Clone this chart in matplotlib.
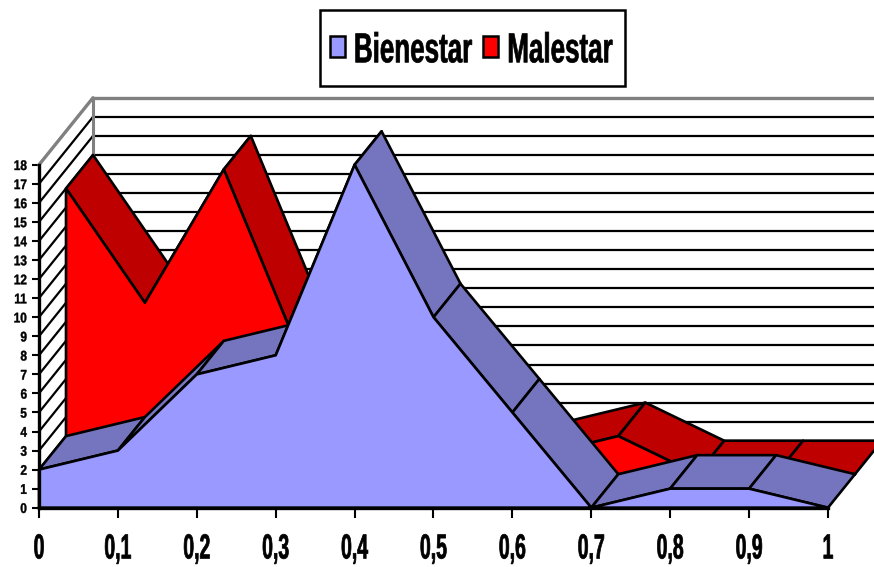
import matplotlib
matplotlib.use('Agg')
from matplotlib import pyplot as plt
from matplotlib import patheffects
from matplotlib.patches import Patch, Rectangle
from matplotlib.transforms import Affine2D

plt.rcParams['font.family'] = ['Liberation Sans', 'DejaVu Sans']
plt.rcParams['font.weight'] = 'bold'

x = [0, .1, .2, .3, .4, .5, .6, .7, .8, .9, 1]
x_labels = ['0', '0,1', '0,2', '0,3', '0,4', '0,5', '0,6', '0,7', '0,8', '0,9', '1']
bienestar = [2, 3, 7, 8, 18, 10, 5, 0, 1, 1, 0]
malestar = [15, 9, 16, 6, 3, 2, 1, 2, 0, 0, 0]  # 0,4 and 0,5 are hidden, estimated
y_ticks = list(range(19))

W, H = 874, 567
X0, X1 = 39, 828      # pixel place of x=0 and x=1
Y0 = 507.7            # pixel row of y=0
PX_Y = 19.05          # pixels for one y unit
DX = 54 / (X1 - X0)   # depth of the 3d box in data units
DY = 67 / PX_Y


class Stretch(patheffects.AbstractPathEffect):
    # makes the glyphs taller from the baseline, the reference font is very condensed
    def __init__(self, sy, dy=0, bold=.5):
        super().__init__()
        self.sy = sy
        self.dy = dy
        self.bold = bold

    def draw_path(self, renderer, gc, tpath, affine, rgbFace=None):
        base = affine.transform((0, 0))[1]
        tr = affine + Affine2D().translate(0, -base).scale(1, self.sy).translate(0, base + self.dy)
        gc0 = renderer.new_gc()
        gc0.copy_properties(gc)
        gc0.set_linewidth(self.bold)
        gc0.set_foreground('black')
        renderer.draw_path(gc0, tpath, tr, rgbFace)
        gc0.restore()


def series(vals, depth, face, side):
    # top bands first, the front face covers the ones on rising parts
    dx0, dy0 = DX * depth, DY * depth
    dx1, dy1 = DX * (depth + .5), DY * (depth + .5)
    z = 10 + (1 - depth) * 10
    for i in range(len(x) - 1):
        ax.fill([x[i] + dx0, x[i + 1] + dx0, x[i + 1] + dx1, x[i] + dx1],
                [vals[i] + dy0, vals[i + 1] + dy0, vals[i + 1] + dy1, vals[i] + dy1],
                facecolor=side, edgecolor='black', lw=1.9, joinstyle='round', zorder=z)
    ax.fill([x[0] + dx0] + [v + dx0 for v in x] + [x[-1] + dx0],
            [dy0] + [v + dy0 for v in vals] + [dy0],
            facecolor=face, edgecolor='black', lw=1.9, joinstyle='round', zorder=z + 1)


fig = plt.figure(figsize=(W / 100, H / 100), dpi=100)
ax = fig.add_axes([0, 0, 1, 1])
ax.set_xlim(-X0 / (X1 - X0), (W - X0) / (X1 - X0))
ax.set_ylim(-(H - Y0) / PX_Y, Y0 / PX_Y)

# walls
for v in y_ticks:
    col, lw = ('#808080', 2.4) if v == 18 else ('black', 1.6)
    ax.plot([0, DX], [v, v + DY], color=col, lw=lw, zorder=2, solid_capstyle='round')
    ax.plot([DX, 1 + DX], [v + DY, v + DY], color=col, lw=lw, zorder=2)
ax.plot([DX, DX], [DY, 18 + DY], color='#808080', lw=2.2, zorder=3)

series(malestar, .5, '#FF0000', '#BF0000')
series(bienestar, 0, '#9999FF', '#7575BF')

for s in ['top', 'right']:
    ax.spines[s].set_visible(False)
ax.spines['bottom'].set_position(('data', 0))
ax.spines['left'].set_position(('data', 0))
ax.spines['bottom'].set_bounds(0, 1)
ax.spines['left'].set_bounds(0, 18)
ax.spines['bottom'].set_linewidth(2.4)
ax.spines['left'].set_linewidth(2.4)
ax.spines['bottom'].set_zorder(30)
ax.spines['left'].set_zorder(30)
ax.patch.set_visible(False)

ax.set_xticks(x, x_labels, fontsize=14)
ax.set_yticks(y_ticks, [str(v) for v in y_ticks], fontsize=8.5)
ax.tick_params(axis='x', length=7.5, width=1.5, pad=19.7)
ax.tick_params(axis='y', length=5, width=1.5, pad=3.7)
for lab in ax.get_xticklabels():
    lab.set_path_effects([Stretch(1.79)])
for lab in ax.get_yticklabels():
    lab.set_path_effects([Stretch(1.18, dy=-.7, bold=.3)])

ax.add_patch(Rectangle((320 / W, 1 - 85.5 / H), 305 / W, 75.5 / H, transform=fig.transFigure,
                       facecolor='white', edgecolor='black', lw=1.8, zorder=39, clip_on=False))
handles = [Patch(facecolor='#9999FF', edgecolor='black', lw=1.8, label='Bienestar'),
           Patch(facecolor='#FF0000', edgecolor='black', lw=1.8, label='Malestar')]
leg = ax.legend(handles=handles, ncol=2, frameon=False, fontsize=18.7, loc='center left',
                bbox_to_anchor=(330 / W, 1 - 48.5 / H), bbox_transform=fig.transFigure,
                borderpad=0, borderaxespad=0, handlelength=.58, handleheight=.88,
                handletextpad=.34, columnspacing=.42)
leg.set_zorder(40)
for t in leg.get_texts():
    t.set_path_effects([Stretch(1.61, dy=-6.5)])

fig.savefig('out.png', dpi=100)
